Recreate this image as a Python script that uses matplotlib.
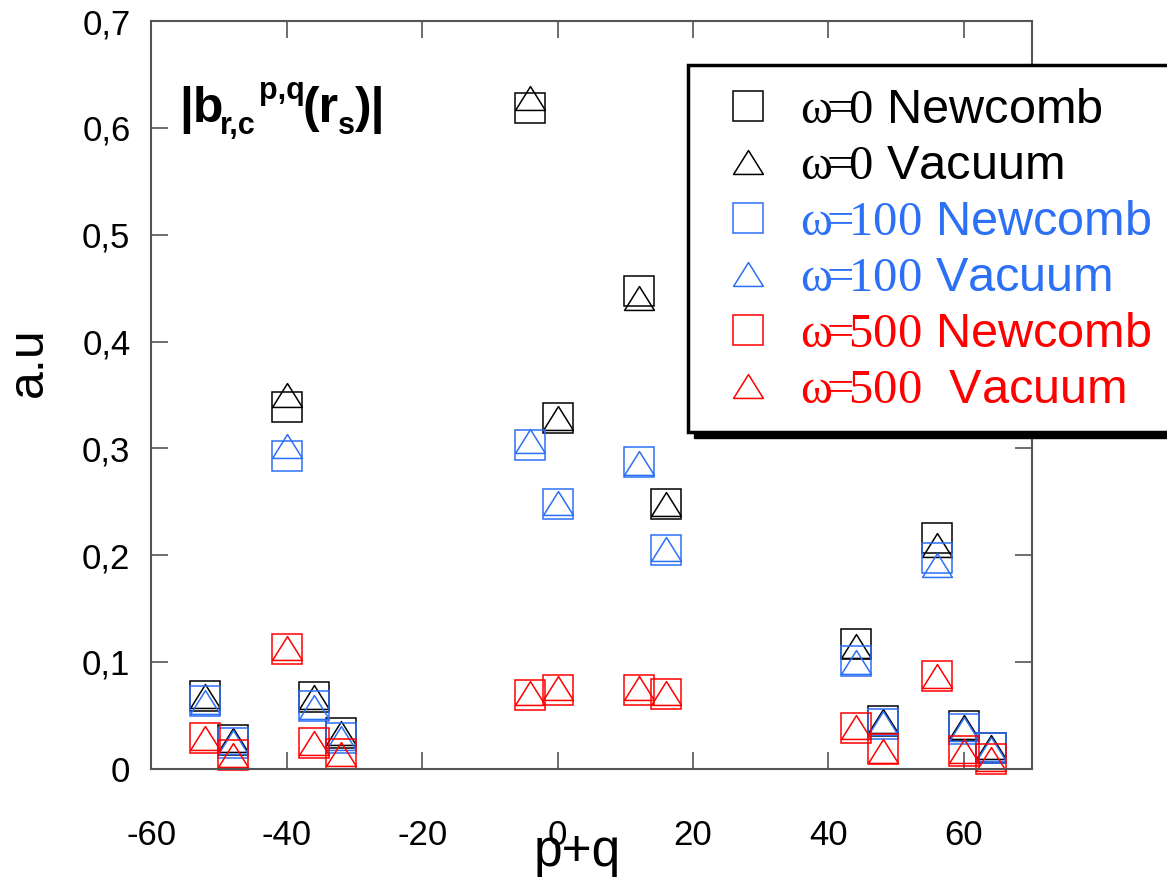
import matplotlib
matplotlib.use("Agg")
import matplotlib.pyplot as plt
from matplotlib.path import Path
from matplotlib.patches import Rectangle
from matplotlib.ticker import FuncFormatter, MultipleLocator

plt.rcParams["font.family"] = ["Liberation Sans", "DejaVu Sans"]
plt.rcParams["mathtext.fontset"] = "custom"
plt.rcParams["mathtext.rm"] = "Liberation Serif"
plt.rcParams["mathtext.bf"] = "Liberation Sans:bold"
plt.rcParams["mathtext.it"] = "Liberation Sans:italic"
plt.rcParams["mathtext.sf"] = "Liberation Sans"
plt.rcParams["axes.unicode_minus"] = False

# mode numbers p+q
pq = [-52, -48, -40, -36, -32, -4, 0, 12, 16, 44, 48, 56, 60, 64]

# |b_rc(r_s)| for each rotation frequency and wall model
w0_newcomb = [0.068, 0.027, 0.339, 0.067, 0.033, 0.619, 0.328, 0.447, 0.248, 0.117, 0.045, 0.216, 0.040, 0.019]
w0_vacuum = [0.068, 0.027, 0.350, 0.067, 0.033, 0.628, 0.328, 0.441, 0.248, 0.115, 0.045, 0.209, 0.039, 0.020]
w100_newcomb = [0.063, 0.024, 0.293, 0.059, 0.029, 0.303, 0.248, 0.287, 0.205, 0.101, 0.042, 0.197, 0.037, 0.019]
w100_vacuum = [0.062, 0.025, 0.302, 0.058, 0.029, 0.307, 0.249, 0.286, 0.206, 0.100, 0.043, 0.191, 0.037, 0.018]
w500_newcomb = [0.029, 0.013, 0.112, 0.024, 0.014, 0.069, 0.074, 0.074, 0.070, 0.038, 0.018, 0.087, 0.017, 0.009]
w500_vacuum = [0.029, 0.013, 0.113, 0.024, 0.014, 0.071, 0.076, 0.076, 0.071, 0.039, 0.017, 0.087, 0.017, 0.009]

labels = [
    r"$\mathrm{\omega\!\!=\!\!0}$ Newcomb",
    r"$\mathrm{\omega\!\!=\!\!0}$ Vacuum",
    r"$\mathrm{\omega\!\!=\!\!100}$ Newcomb",
    r"$\mathrm{\omega\!\!=\!\!100}$ Vacuum",
    r"$\mathrm{\omega\!\!=\!\!500}$ Newcomb",
    r"$\mathrm{\omega\!\!=\!\!500}$  Vacuum",
]

BLUE = "#2c70f5"
GRAY = "#555555"
W, H = 1167, 877

# flat open triangle, wider than tall
tri = Path([(-1, -0.8), (1, -0.8), (0, 0.8), (-1, -0.8)],
           [Path.MOVETO, Path.LINETO, Path.LINETO, Path.CLOSEPOLY])

series = [
    (w0_newcomb, "s", "black"),
    (w0_vacuum, tri, "black"),
    (w100_newcomb, "s", BLUE),
    (w100_vacuum, tri, BLUE),
    (w500_newcomb, "s", "red"),
    (w500_vacuum, tri, "red"),
]

fig = plt.figure(figsize=(W / 100, H / 100), dpi=100)
ax = fig.add_axes([0.1296, 0.1235, 0.7544, 0.8524])

for (vals, m, c), lab in zip(series, labels):
    ax.plot(pq, vals, ls="none", marker=m, ms=21.5, mfc="none", mec=c,
            mew=1.1, color=c, label=lab, clip_on=False)

ax.set_xlim(-60, 70)
ax.set_ylim(0, 0.7)
ax.xaxis.set_major_locator(MultipleLocator(20))
ax.yaxis.set_major_locator(MultipleLocator(0.1))
ax.yaxis.set_major_formatter(FuncFormatter(
    lambda v, _: "0" if abs(v) < 1e-9 else f"{v:.1f}".replace(".", ",")))

for sp in ax.spines.values():
    sp.set_color(GRAY)
    sp.set_linewidth(1.5)
ax.tick_params(direction="in", length=12, width=1.2, color=GRAY,
               labelsize=25, top=True, right=True)
ax.tick_params(axis="y", pad=15)
ax.tick_params(axis="x", pad=36)

ax.set_xlabel("p+q", fontsize=37)
ax.xaxis.set_label_coords(0.484, -0.079)
ax.set_ylabel("a.u", fontsize=36)
ax.yaxis.set_label_coords(-0.113, 0.544)

# |b_{r,c}^{p,q}(r_s)| built piece by piece, superscript after subscript;
# last number is the extra gap (px) after each piece
renderer = fig.canvas.get_renderer()
pieces = [("|b", 36, 0, -4), ("r,c", 22, -12, 4), ("p,q", 22, 23, -2),
          ("(r", 36, 0, -1), ("s", 22, -12, 0), (")|", 36, 0, 0)]
xpos, base = 179, 122
for s, size, dy, gap in pieces:
    t = fig.text(xpos / W, 1 - (base - dy) / H, s, fontsize=size,
                 fontweight="bold", va="baseline", ha="left")
    xpos += t.get_window_extent(renderer).width + gap

# legend box with a hard drop shadow
x0, y0 = 688 / W, 1 - 432 / H
w, h = 500 / W, (432 - 65) / H
ax.add_artist(Rectangle((x0 + 6 / W, y0 - 6 / H), w, h, transform=fig.transFigure,
                        facecolor="black", edgecolor="black", clip_on=False, zorder=4))
ax.add_artist(Rectangle((x0, y0), w, h, transform=fig.transFigure, facecolor="white",
                        edgecolor="black", lw=2.5, clip_on=False, zorder=4.5))

ax.legend(loc="upper left", bbox_to_anchor=(724 / W, 1 - 88 / H),
          bbox_transform=fig.transFigure, frameon=False, fontsize=35,
          handlelength=1.0, handletextpad=0.56, labelspacing=0.225,
          borderpad=0, borderaxespad=0,
          labelcolor=["black", "black", BLUE, BLUE, "red", "red"])

fig.savefig("out.png", dpi=100)
